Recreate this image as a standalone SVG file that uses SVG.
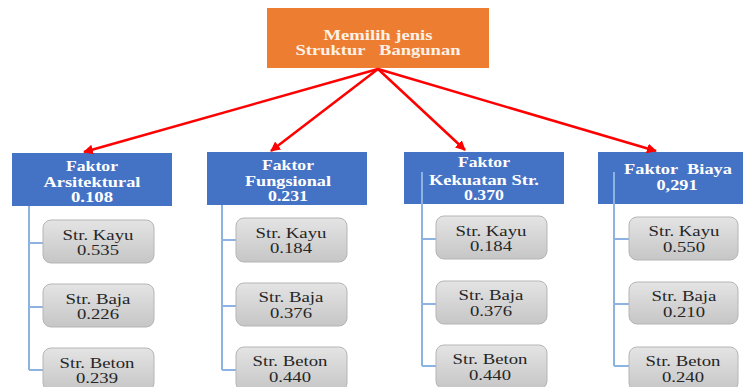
<svg xmlns="http://www.w3.org/2000/svg" width="743" height="387" viewBox="0 0 743 387">
<defs>
<linearGradient id="g" x1="0" y1="0" x2="0" y2="1">
<stop offset="0" stop-color="#E4E4E4"/>
<stop offset="1" stop-color="#C6C6C6"/>
</linearGradient>
<marker id="ah" viewBox="0 0 10 10" refX="9" refY="5" markerWidth="4" markerHeight="4" orient="auto" markerUnits="strokeWidth">
<path d="M0,0 L10,5 L0,10 z" fill="#FF0000"/>
</marker>
<style>
.top{fill:#ED7D31}
.fac{fill:#4472C4}
.alt{fill:url(#g);stroke:#B5B5B5;stroke-width:1}
.tw{font-family:"Liberation Serif",serif;font-weight:bold;font-size:14px;fill:#FFFFFF;text-anchor:middle}
.tt{font-family:"Liberation Serif",serif;font-weight:bold;font-size:14px;fill:#FDF1E6;text-anchor:middle}
.tg{font-family:"Liberation Serif",serif;font-size:15px;fill:#262626;text-anchor:middle}
.arr{stroke:#FF0000;stroke-width:2.5;fill:none;marker-end:url(#ah)}
.br{stroke:#8DB3E2;stroke-width:2;fill:none}
</style>
</defs>

<g id="goal">
<rect class="top" x="267" y="8" width="222" height="60"/>
<text class="tt" x="378" y="40" textLength="109" lengthAdjust="spacingAndGlyphs">Memilih jenis</text>
<text class="tt" x="378" y="55" textLength="165" lengthAdjust="spacingAndGlyphs" xml:space="preserve">Struktur   Bangunan</text>
</g>

<g id="f1">
<rect class="fac" x="12" y="153" width="160" height="53"/>
<text class="tw" x="92" y="171" textLength="52" lengthAdjust="spacingAndGlyphs">Faktor</text>
<text class="tw" x="92" y="187" textLength="97" lengthAdjust="spacingAndGlyphs">Arsitektural</text>
<text class="tw" x="92" y="202" textLength="42" lengthAdjust="spacingAndGlyphs">0.108</text>
</g>
<g id="f2">
<rect class="fac" x="207" y="152" width="160" height="53"/>
<text class="tw" x="288" y="170" textLength="52" lengthAdjust="spacingAndGlyphs">Faktor</text>
<text class="tw" x="288" y="186" textLength="86" lengthAdjust="spacingAndGlyphs">Fungsional</text>
<text class="tw" x="288" y="201" textLength="40" lengthAdjust="spacingAndGlyphs">0.231</text>
</g>
<g id="f3">
<rect class="fac" x="404" y="152" width="160" height="52"/>
<text class="tw" x="484" y="167" textLength="52" lengthAdjust="spacingAndGlyphs">Faktor</text>
<text class="tw" x="484" y="185" textLength="110" lengthAdjust="spacingAndGlyphs">Kekuatan Str.</text>
<text class="tw" x="484" y="200" textLength="40" lengthAdjust="spacingAndGlyphs">0.370</text>
</g>
<g id="f4">
<rect class="fac" x="598" y="152" width="150" height="52"/>
<text class="tw" x="678" y="174" textLength="108" lengthAdjust="spacingAndGlyphs" xml:space="preserve">Faktor  Biaya</text>
<text class="tw" x="677" y="190" textLength="41" lengthAdjust="spacingAndGlyphs">0,291</text>
</g>

<g id="connectors">
<line class="arr" x1="378" y1="69" x2="84" y2="152"/>
<line class="arr" x1="378" y1="69" x2="271" y2="151"/>
<line class="arr" x1="378" y1="69" x2="465" y2="150"/>
<line class="arr" x1="378" y1="69" x2="656" y2="151"/>
<path class="br" d="M29,206 V370 M29,243 H43 M29,307 H43 M29,370 H43"/>
<path class="br" d="M222,205 V370 M222,240 H236 M222,306 H236 M222,370 H236"/>
<path class="br" d="M422,172 V366 M422,239 H436 M422,304 H436 M422,366 H436"/>
<path class="br" d="M614,172 V366 M614,239 H629 M614,304 H629 M614,366 H629"/>
</g>

<g id="a1k"><rect class="alt" x="43" y="220" width="111" height="43" rx="8"/>
<text class="tg" x="98" y="240" textLength="71" lengthAdjust="spacingAndGlyphs">Str. Kayu</text>
<text class="tg" x="98" y="255" textLength="42" lengthAdjust="spacingAndGlyphs">0.535</text></g>
<g id="a1b"><rect class="alt" x="43" y="284" width="111" height="43" rx="8"/>
<text class="tg" x="98" y="304" textLength="65" lengthAdjust="spacingAndGlyphs">Str. Baja</text>
<text class="tg" x="98" y="319" textLength="42" lengthAdjust="spacingAndGlyphs">0.226</text></g>
<g id="a1c"><rect class="alt" x="43" y="348" width="111" height="43" rx="8"/>
<text class="tg" x="97" y="368" textLength="75" lengthAdjust="spacingAndGlyphs">Str. Beton</text>
<text class="tg" x="97" y="383" textLength="42" lengthAdjust="spacingAndGlyphs">0.239</text></g>

<g id="a2k"><rect class="alt" x="236" y="218" width="111" height="44" rx="8"/>
<text class="tg" x="291" y="238" textLength="71" lengthAdjust="spacingAndGlyphs">Str. Kayu</text>
<text class="tg" x="291" y="253" textLength="42" lengthAdjust="spacingAndGlyphs">0.184</text></g>
<g id="a2b"><rect class="alt" x="236" y="283" width="111" height="43" rx="8"/>
<text class="tg" x="291" y="302" textLength="65" lengthAdjust="spacingAndGlyphs">Str. Baja</text>
<text class="tg" x="291" y="318" textLength="42" lengthAdjust="spacingAndGlyphs">0.376</text></g>
<g id="a2c"><rect class="alt" x="236" y="347" width="111" height="44" rx="8"/>
<text class="tg" x="290" y="366" textLength="75" lengthAdjust="spacingAndGlyphs">Str. Beton</text>
<text class="tg" x="290" y="382" textLength="42" lengthAdjust="spacingAndGlyphs">0.440</text></g>

<g id="a3k"><rect class="alt" x="436" y="216" width="111" height="43" rx="8"/>
<text class="tg" x="491" y="236" textLength="71" lengthAdjust="spacingAndGlyphs">Str. Kayu</text>
<text class="tg" x="491" y="251" textLength="42" lengthAdjust="spacingAndGlyphs">0.184</text></g>
<g id="a3b"><rect class="alt" x="436" y="281" width="111" height="43" rx="8"/>
<text class="tg" x="491" y="300" textLength="65" lengthAdjust="spacingAndGlyphs">Str. Baja</text>
<text class="tg" x="491" y="316" textLength="42" lengthAdjust="spacingAndGlyphs">0.376</text></g>
<g id="a3c"><rect class="alt" x="436" y="345" width="111" height="44" rx="8"/>
<text class="tg" x="490" y="364" textLength="75" lengthAdjust="spacingAndGlyphs">Str. Beton</text>
<text class="tg" x="490" y="380" textLength="42" lengthAdjust="spacingAndGlyphs">0.440</text></g>

<g id="a4k"><rect class="alt" x="629" y="217" width="109" height="43" rx="8"/>
<text class="tg" x="684" y="236" textLength="71" lengthAdjust="spacingAndGlyphs">Str. Kayu</text>
<text class="tg" x="684" y="252" textLength="42" lengthAdjust="spacingAndGlyphs">0.550</text></g>
<g id="a4b"><rect class="alt" x="629" y="282" width="109" height="42" rx="8"/>
<text class="tg" x="684" y="301" textLength="65" lengthAdjust="spacingAndGlyphs">Str. Baja</text>
<text class="tg" x="684" y="317" textLength="42" lengthAdjust="spacingAndGlyphs">0.210</text></g>
<g id="a4c"><rect class="alt" x="629" y="347" width="109" height="44" rx="8"/>
<text class="tg" x="683" y="366" textLength="75" lengthAdjust="spacingAndGlyphs">Str. Beton</text>
<text class="tg" x="683" y="382" textLength="42" lengthAdjust="spacingAndGlyphs">0.240</text></g>
</svg>
